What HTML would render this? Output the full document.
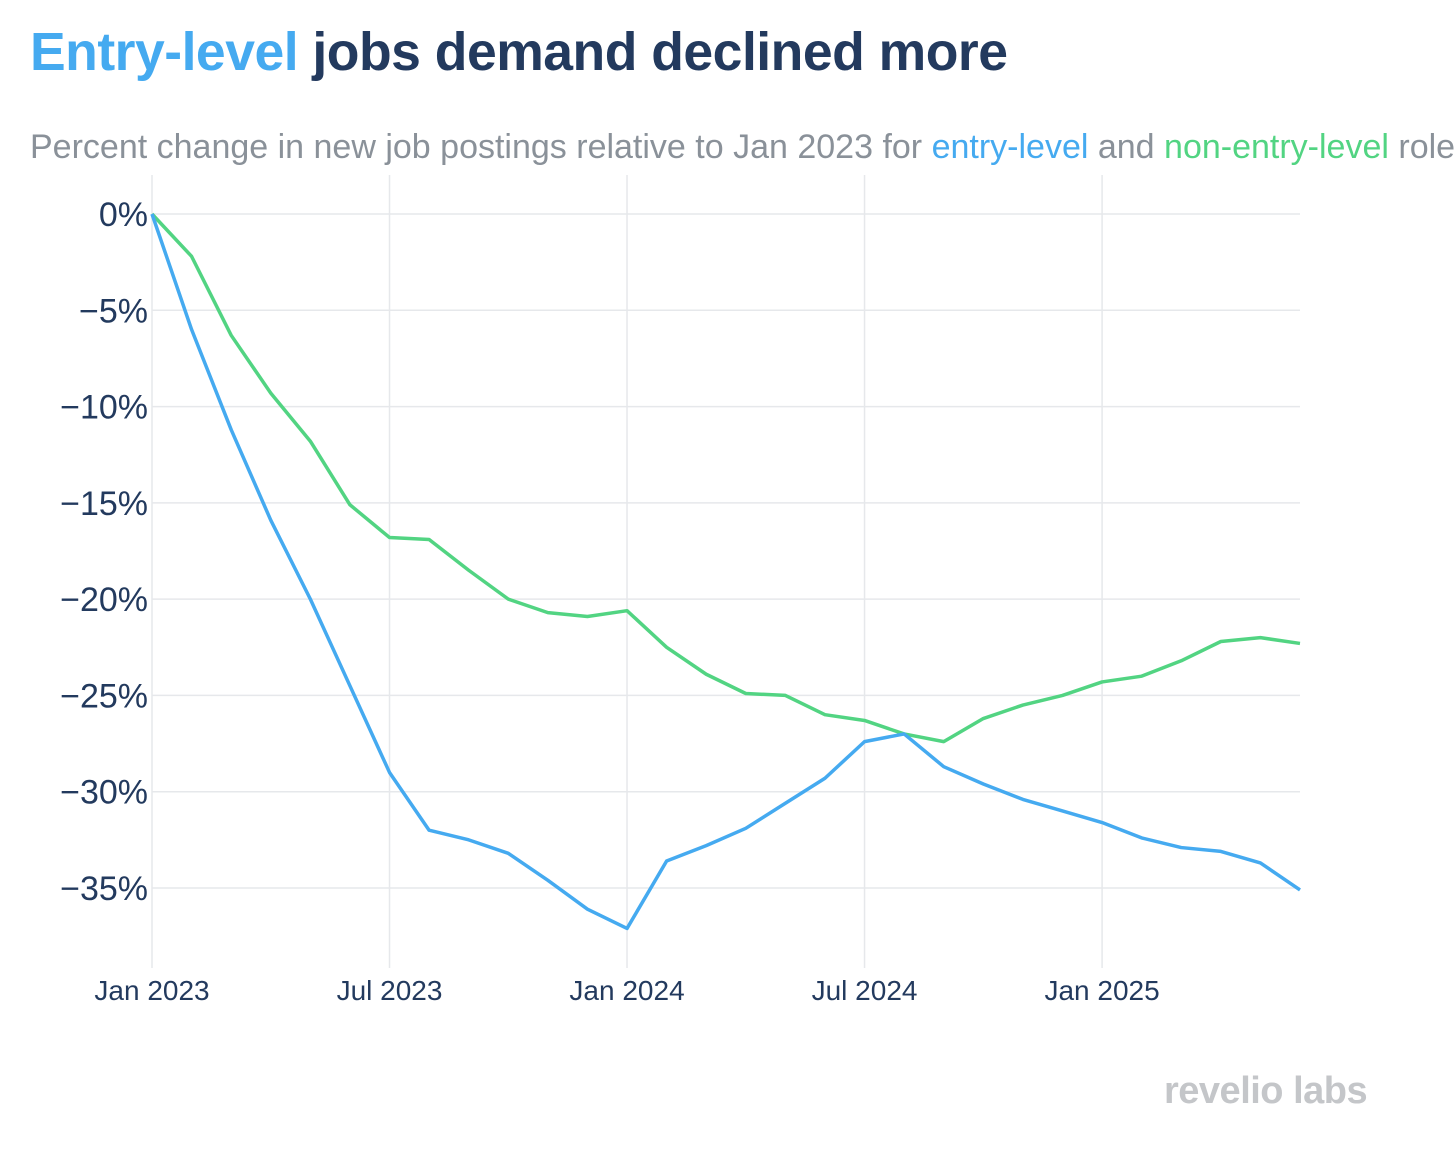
<!DOCTYPE html>
<html><head><meta charset="utf-8">
<style>
html,body{margin:0;padding:0;background:#fff;}
body{width:1456px;height:1152px;overflow:hidden;position:relative;font-family:"Liberation Sans",sans-serif;}
#title{position:absolute;left:30px;top:22px;font-size:53.5px;font-weight:bold;color:#233a5e;white-space:nowrap;letter-spacing:-0.5px;}
#subtitle{position:absolute;left:30px;top:128px;font-size:34px;color:#8a9199;white-space:nowrap;}
.blue{color:#45aaf0}.green{color:#52d482}
#logo{position:absolute;left:1164px;top:1070px;font-size:38px;font-weight:bold;color:#c4c6c9;letter-spacing:-0.5px;white-space:nowrap;}
svg{position:absolute;left:0;top:0;}
</style></head><body>
<div id="title"><span class="blue">Entry-level</span> jobs demand declined more</div>
<div id="subtitle">Percent change in new job postings relative to Jan 2023 for <span class="blue">entry-level</span> and <span class="green">non-entry-level</span> roles</div>
<svg id="chart" width="1456" height="1152"></svg>
<div id="logo">revelio labs</div>
<script>
const entryLevel=[0,-6.0,-11.2,-15.9,-20.0,-24.5,-29.0,-32.0,-32.5,-33.2,-34.6,-36.1,-37.1,-33.6,-32.8,-31.9,-30.6,-29.3,-27.4,-27.0,-28.7,-29.6,-30.4,-31.0,-31.6,-32.4,-32.9,-33.1,-33.7,-35.1];
const nonEntryLevel=[0,-2.2,-6.3,-9.3,-11.8,-15.1,-16.8,-16.9,-18.5,-20.0,-20.7,-20.9,-20.6,-22.5,-23.9,-24.9,-25.0,-26.0,-26.3,-27.0,-27.4,-26.2,-25.5,-25.0,-24.3,-24.0,-23.2,-22.2,-22.0,-22.3];
const yTicks=[0,-5,-10,-15,-20,-25,-30,-35];
const yTickLabels=["0%","\u22125%","\u221210%","\u221215%","\u221220%","\u221225%","\u221230%","\u221235%"];
const xTickMonths=[0,6,12,18,24];
const xTickLabels=["Jan 2023","Jul 2023","Jan 2024","Jul 2024","Jan 2025"];

const NS="http://www.w3.org/2000/svg";
const svg=document.getElementById('chart');
const x=m=>152+m*(1300-152)/29;
const y=v=>214-v*(888-214)/35;
function el(tag,attrs){const e=document.createElementNS(NS,tag);for(const k in attrs)e.setAttribute(k,attrs[k]);svg.appendChild(e);return e;}

yTicks.forEach((t,i)=>{
  const g=el('line',{x1:152,x2:1300,y1:y(t),y2:y(t),stroke:'#e6e8eb','stroke-width':1.5});
  
  
  const tx=el('text',{x:148,y:y(t)+12,'text-anchor':'end','font-size':34,fill:'#233a5e','font-family':'Liberation Sans, sans-serif'});
  tx.textContent=yTickLabels[i];
  
  
});
xTickMonths.forEach((m,i)=>{
  const g=el('line',{x1:x(m),x2:x(m),y1:175,y2:968,stroke:'#e6e8eb','stroke-width':1.5});
  
  
  const tx=el('text',{x:x(m),y:1000,'text-anchor':'middle','font-size':28,fill:'#233a5e','font-family':'Liberation Sans, sans-serif'});
  tx.textContent=xTickLabels[i];
  
  
});
function line(data,color,name){
  const p=el('polyline',{points:data.map((v,i)=>x(i)+','+y(v)).join(' '),fill:'none',stroke:color,'stroke-width':3.5,'stroke-linejoin':'round'});
  
  
}
line(nonEntryLevel,'#52d482','non-entry-level-line');
line(entryLevel,'#45aaf0','entry-level-line');
</script>
</body></html>
